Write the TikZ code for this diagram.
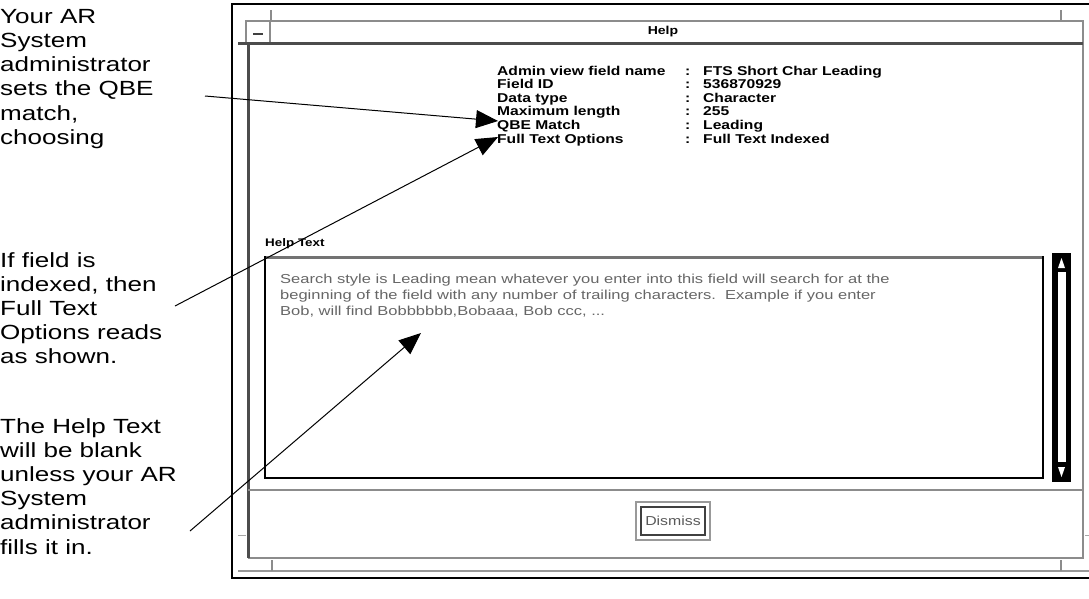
\documentclass[tikz,border=0pt]{standalone}
\usepackage{fontspec}
\setmainfont{Liberation Sans}[FakeStretch=1.27]
\newfontfamily\uifont{Liberation Sans}[FakeStretch=1.22]
\usetikzlibrary{arrows.meta}

\begin{document}
\begin{tikzpicture}[x=1pt,y=-1pt,
  note/.style={anchor=north west, align=left, inner sep=0pt,
    font=\fontsize{20.5}{24.2}\selectfont},
  callout/.style={line width=1pt, -{Triangle[length=22pt,width=18pt]}},
  uilabel/.style={anchor=base west, inner sep=0pt,
    font=\uifont\bfseries\fontsize{12.8}{13}\selectfont},
  helpline/.style={anchor=base west, inner sep=0pt, text=black!60,
    font=\fontsize{13}{14}\selectfont},
  frameline/.style={line width=1.5pt, draw=black!45},
  darkline/.style={line width=3pt, draw=black!70},
]
\useasboundingbox (0,0) rectangle (1089,598);

% ---- outer frame of the screenshot
\draw[line width=2.5pt] (1095,4) -- (232,4) -- (232,578) -- (1095,578);

% ---- window decoration
\draw[frameline] (246,21) -- (1083,21) -- (1083,558) -- (248,558);
\draw[frameline] (271,10) -- (271,21);
\draw[frameline] (1061,10) -- (1061,21);
\draw[frameline] (246,21) rectangle (270,43);
\draw[line width=1.6pt, black!75] (253,34) -- (263,34);
\draw[darkline] (238,43) -- (1083,43);
\draw[darkline] (248,43) -- (248,558);
\draw[line width=2.5pt, black!40] (238,571) -- (1095,571);
\draw[frameline] (272,560) -- (272,571);
\draw[frameline] (1061,560) -- (1061,571);
\draw[line width=0.8pt, black!35] (238,535) -- (246,535);
\draw[line width=0.8pt, black!35] (1085,535) -- (1089,535);
\draw[line width=2.5pt, black!45] (248,490) -- (1083,490);

\node[inner sep=0pt, font=\uifont\bfseries\fontsize{11.5}{12}\selectfont] (title) at (663,32) {Help};

% ---- field information
\foreach \lab/\val/\y [count=\i] in {
    Admin view field name/FTS Short Char Leading/75,
    Field ID/536870929/88.5,
    Data type/Character/102,
    Maximum length/255/115.5,
    QBE Match/Leading/129,
    Full Text Options/Full Text Indexed/143}{
  \node[uilabel] (lab\i) at (497,\y) {\lab};
  \node[uilabel] (col\i) at (685,\y) {:};
  \node[uilabel] (val\i) at (703,\y) {\val};
}

% ---- help text area
\node[uilabel, font=\uifont\bfseries\fontsize{11}{12}\selectfont] (helplab) at (265,246) {Help Text};
\draw[line width=3pt, black!55] (265,257) -- (1043,257);
\draw[line width=2pt] (265,256) -- (265,478) -- (1043,478) -- (1043,256);
\node[helpline] (hl1) at (280,283) {Search style is Leading mean whatever you enter into this field will search for at the};
\node[helpline] (hl2) at (280,299) {beginning of the field with any number of trailing characters.\ \ Example if you enter};
\node[helpline] (hl3) at (280,315) {Bob, will find Bobbbbbb,Bobaaa, Bob ccc, ...};

% ---- scroll bar
\fill (1052,253) rectangle (1071,482);
\fill[white] (1058,272) rectangle (1066,462);
\fill[white] (1061.5,258) -- (1065,268) -- (1058,268) -- cycle;
\fill[white] (1058,467) -- (1065,467) -- (1061.5,477) -- cycle;

% ---- dismiss button
\draw[line width=1.5pt, black!40] (636,502) rectangle (710,540);
\draw[line width=2pt, black!75] (641,507) rectangle (705,535);
\node[inner sep=0pt, text=black!65, font=\uifont\fontsize{13}{13}\selectfont] (dismiss) at (673,521) {Dismiss};

% ---- annotations
\node[note] (n1) at (0,9) {Your AR\\System\\administrator\\sets the QBE\\match,\\choosing};
\node[note] (n2) at (0,252) {If field is\\indexed, then\\Full Text\\Options reads\\as shown.};
\node[note] (n3) at (0,418) {The Help Text\\will be blank\\unless your AR\\System\\administrator\\fills it in.};

\coordinate (s1) at (205,96);
\coordinate (s2) at (175,306);
\coordinate (s3) at (190,531);
\coordinate (t1) at (498,121);
\coordinate (t2) at (498,137);
\coordinate (t3) at (421,333);
\draw[callout] (s1) -- (t1);
\draw[callout] (s2) -- (t2);
\draw[callout] (s3) -- (t3);
\end{tikzpicture}
\end{document}
